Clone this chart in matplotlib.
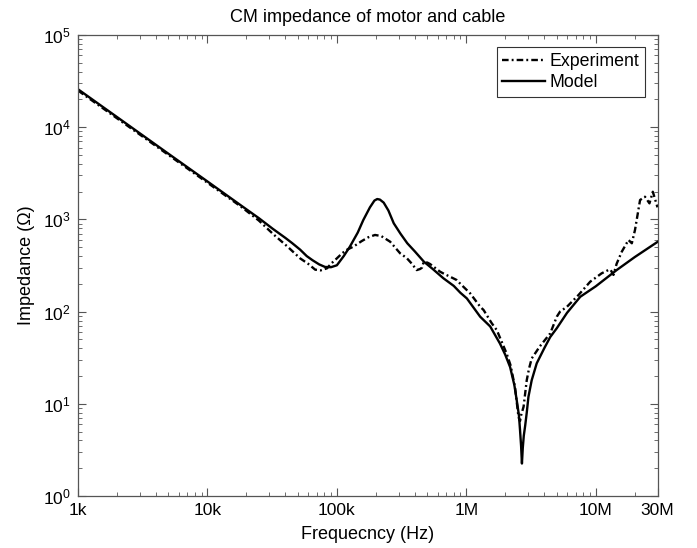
import matplotlib
matplotlib.use("Agg")
import matplotlib.pyplot as plt
from matplotlib.ticker import LogLocator, FixedLocator, FixedFormatter, NullFormatter

plt.rcParams['font.family'] = ['Liberation Sans', 'DejaVu Sans']
plt.rcParams['mathtext.fontset'] = 'custom'
plt.rcParams['mathtext.rm'] = 'Liberation Sans'
plt.rcParams['mathtext.it'] = 'Liberation Sans:italic'
plt.rcParams['mathtext.bf'] = 'Liberation Sans:bold'

# ---- data ----
model_freq = [1e3, 2e3, 5e3, 1e4, 1.8e4, 2.5e4, 3.2e4, 4.0e4, 4.5e4, 5.2e4, 5.85e4, 6.5e4,
              7.3e4, 8.1e4, 9e4, 1e5, 1.13e5, 1.26e5, 1.45e5, 1.6e5, 1.8e5, 1.95e5,
              2.05e5, 2.15e5, 2.3e5, 2.5e5, 2.75e5, 3.1e5, 3.5e5, 4e5, 4.7e5, 5.5e5,
              6.65e5, 8e5, 9e5, 1.01e6, 1.28e6, 1.53e6, 1.82e6, 2.0e6, 2.18e6, 2.35e6,
              2.45e6, 2.55e6, 2.6e6, 2.65e6, 2.69e6, 2.73e6, 2.78e6, 2.85e6, 2.93e6,
              3.02e6, 3.2e6, 3.5e6, 4.0e6, 4.45e6, 5.0e6, 6.0e6, 7.6e6, 1e7, 1.45e7,
              2e7, 3e7]
model_z = [25800, 12900, 5150, 2580, 1430, 1030, 790, 630, 555, 470, 400, 360,
           325, 305, 303, 318, 400, 506, 720, 984, 1350, 1600,
           1663, 1640, 1520, 1250, 908, 700, 551, 450, 348, 290,
           230, 190, 160, 139, 88, 69, 45, 34, 25, 16,
           11, 7.5, 5.2, 3.5, 2.25, 3.3, 4.5, 5.8, 8.0,
           11.9, 18, 27.5, 40, 53, 66, 97, 145, 188, 282,
           390, 570]

exp_freq = [1e3, 2e3, 5e3, 1e4, 1.8e4, 2.5e4, 3.23e4, 4.2e4, 5.2e4, 6e4, 6.8e4, 7.5e4,
            8.4e4, 9e4, 1e5, 1.1e5, 1.2e5, 1.34e5, 1.55e5, 1.75e5, 1.97e5, 2.2e5,
            2.58e5, 3.08e5, 3.47e5, 3.8e5, 4.14e5, 4.4e5, 4.55e5, 4.68e5, 5e5, 5.25e5,
            5.7e5, 6.27e5, 6.8e5, 7.49e5, 8.43e5, 9e5, 1.07e6, 1.28e6, 1.36e6, 1.57e6,
            1.72e6, 2.05e6, 2.2e6, 2.38e6, 2.53e6, 2.6e6, 2.65e6, 2.77e6, 2.93e6,
            3.05e6, 3.2e6, 3.7e6, 4.45e6, 5e6, 5.3e6, 6e6, 7.35e6, 9.06e6, 1.11e7,
            1.25e7, 1.3e7, 1.37e7, 1.45e7, 1.59e7, 1.79e7, 1.9e7, 2.01e7, 2.2e7,
            2.4e7, 2.6e7, 2.76e7, 3e7]
exp_z = [25000, 12500, 5000, 2500, 1390, 970, 690, 500, 378, 330, 285, 280,
         295, 330, 378, 430, 470, 506, 580, 640, 678, 660,
         573, 429, 380, 330, 282, 290, 300, 345, 340, 328,
         300, 271, 255, 239, 220, 200, 158, 113, 104, 75,
         63, 35, 26, 15, 7.2, 6.5, 7.5, 9.3, 18,
         24, 31, 42, 58, 88, 100, 113, 151, 211, 260,
         282, 285, 250, 330, 447, 598, 551, 767, 1623,
         1762, 1493, 1995, 1352]

x_ticks = [1e3, 1e4, 1e5, 1e6, 1e7, 3e7]
x_tick_labels = ['1k', '10k', '100k', '1M', '10M', '30M']

title = 'CM impedance of motor and cable'
x_label = 'Frequecncy (Hz)'
y_label = 'Impedance (\u03a9)'

# ---- figure ----
fig = plt.figure(figsize=(6.97, 5.48), dpi=100)
ax = fig.add_axes([78/697, (548-496)/548, (657.5-78)/697, (496-35)/548])

ax.plot(exp_freq, exp_z, color='black', lw=1.7,
        linestyle=(0, (2.8, 1.3, 0.8, 1.3)), label='Experiment')
ax.plot(model_freq, model_z, color='black', lw=1.7, linestyle='-', label='Model')

ax.set_xscale('log')
ax.set_yscale('log')
ax.set_xlim(1e3, 3e7)
ax.set_ylim(1, 1e5)

ax.xaxis.set_major_locator(FixedLocator(x_ticks))
ax.xaxis.set_major_formatter(FixedFormatter(x_tick_labels))
ax.xaxis.set_minor_locator(LogLocator(base=10, subs=range(2, 10), numticks=20))
ax.xaxis.set_minor_formatter(NullFormatter())
ax.yaxis.set_major_locator(LogLocator(base=10, numticks=10))
ax.yaxis.set_minor_locator(LogLocator(base=10, subs=range(2, 10), numticks=20))
ax.yaxis.set_minor_formatter(NullFormatter())

spine_col = '#555555'
for s in ax.spines.values():
    s.set_color(spine_col)
    s.set_linewidth(0.9)
ax.tick_params(which='both', direction='in', top=True, right=True, color=spine_col,
               labelsize=12.5, labelcolor='black')
ax.tick_params(which='major', length=6, width=0.8, pad=5)
ax.tick_params(which='minor', length=3, width=0.6)

ax.set_title(title, fontsize=13, pad=9)
ax.set_xlabel(x_label, fontsize=13, labelpad=6)
ax.set_ylabel(y_label, fontsize=13, labelpad=6)

leg = ax.legend(loc='upper right', fontsize=12.8, frameon=True, fancybox=False,
                edgecolor='black', borderaxespad=0.7, handlelength=2.4,
                handletextpad=0.3, borderpad=0.3, labelspacing=0.25)
leg.get_frame().set_linewidth(0.8)

fig.savefig('out.png', dpi=100)
